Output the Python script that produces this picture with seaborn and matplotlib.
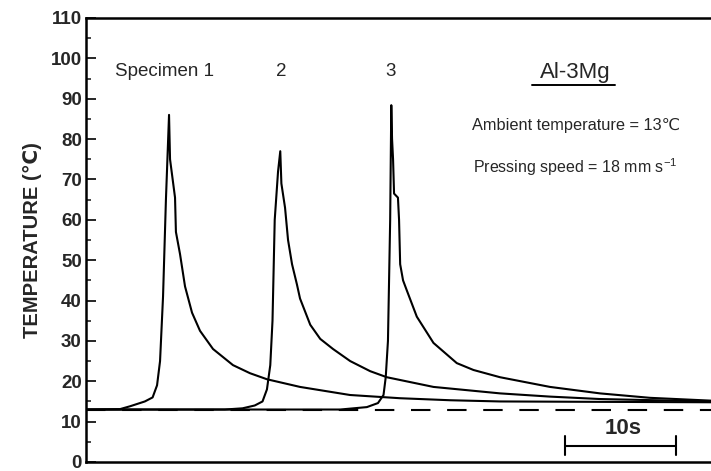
import matplotlib
matplotlib.use("Agg")
import matplotlib.pyplot as plt
import seaborn as sns
import pandas as pd
import numpy as np

# ---- data (time in s, temperature in degC) ----
t1 = [0.0, 3.06, 3.96, 5.3, 6.0, 6.4, 6.67, 6.94, 7.2, 7.48, 7.57, 8.02, 8.1, 8.47, 8.92, 9.55,
      10.27, 11.44, 13.24, 14.77, 16.3, 19.28, 23.78, 28.29, 32.8, 37.3, 46.3, 56.3]
v1 = [13.0, 13.1, 13.8, 15.0, 16.0, 19.0, 25.0, 41.0, 65.0, 86.0, 75.0, 65.5, 57.0, 51.5, 43.5, 37.0,
      32.5, 28.0, 24.0, 22.0, 20.5, 18.6, 16.6, 15.8, 15.3, 15.0, 14.9, 14.8]

t2 = [0.0, 12.5, 14.1, 15.2, 15.9, 16.3, 16.6, 16.8, 17.0, 17.3, 17.5, 17.6, 17.93, 18.2, 18.56,
      19.0, 19.28, 20.2, 21.1, 22.25, 23.8, 25.6, 27.1, 31.3, 37.3, 41.8, 46.3, 56.3]
v2 = [13.0, 13.0, 13.3, 14.0, 15.0, 18.0, 24.0, 35.0, 60.0, 72.0, 77.0, 69.0, 63.0, 55.0, 49.0,
      44.0, 40.5, 34.0, 30.5, 28.0, 25.0, 22.5, 21.0, 18.6, 17.0, 16.2, 15.6, 15.0]

t3 = [0.0, 22.9, 25.3, 26.3, 26.8, 27.0, 27.2, 27.4, 27.5, 27.57, 27.66, 27.75, 28.1, 28.2, 28.3,
      28.56, 28.9, 29.8, 31.3, 33.4, 34.9, 37.3, 41.8, 46.3, 50.8, 56.3]
v3 = [13.0, 13.0, 13.6, 14.6, 16.6, 21.0, 30.0, 60.0, 88.4, 80.0, 75.0, 66.5, 65.5, 60.0, 49.0,
      45.0, 42.5, 36.0, 29.5, 24.5, 22.8, 21.0, 18.6, 17.0, 15.9, 15.2]

specimens = ["Specimen 1", "2", "3"]
ambient = 13.0
y_ticks = list(range(0, 111, 10))

df = pd.concat([
    pd.DataFrame({"time": t1, "temp": v1, "specimen": specimens[0]}),
    pd.DataFrame({"time": t2, "temp": v2, "specimen": specimens[1]}),
    pd.DataFrame({"time": t3, "temp": v3, "specimen": specimens[2]}),
], ignore_index=True)

sns.set_style("white")
plt.rcParams["font.family"] = ["Liberation Sans", "DejaVu Sans"]
plt.rcParams["lines.scale_dashes"] = False
plt.rcParams["mathtext.fontset"] = "custom"
plt.rcParams["mathtext.rm"] = "Liberation Sans"

fig = plt.figure(figsize=(7.11, 4.71), dpi=100)
ax = fig.add_axes([86 / 711, 9 / 471, 1 - 86 / 711, (462 - 18) / 471])

sns.lineplot(data=df, x="time", y="temp", units="specimen", estimator=None, sort=False,
             color="black", linewidth=1.5, ax=ax, legend=False)

ax.axhline(ambient, color="black", linewidth=1.5, dashes=(14, 12))

ax.set_xlim(0, 56.3)
ax.set_ylim(0, 110)
ax.set_yticks(y_ticks)
ax.set_yticks(np.arange(5, 110, 10), minor=True)
ax.set_xticks([])
ax.tick_params(axis="y", which="major", direction="in", length=7, width=1.4, pad=3,
               labelsize=13.5, left=True)
ax.tick_params(axis="y", which="minor", direction="in", length=3.5, width=1.2, left=True)
for lab in ax.get_yticklabels():
    lab.set_fontweight("bold")
ax.set_xlabel("")
ax.set_ylabel("TEMPERATURE (℃)", fontsize=14.5, fontweight="bold", labelpad=6)

for side in ["left", "bottom", "top"]:
    ax.spines[side].set_visible(True)
    ax.spines[side].set_linewidth(1.8)
    ax.spines[side].set_color("black")
ax.spines["right"].set_visible(False)

# labels
ax.text(2.6, 96.8, "Specimen 1", fontsize=13.5, va="center", ha="left")
ax.text(17.6, 96.8, "2", fontsize=13.5, va="center", ha="center")
ax.text(27.4, 96.8, "3", fontsize=13.5, va="center", ha="center")
ax.text(44.05, 96.4, "Al-3Mg", fontsize=16, va="center", ha="center")
ax.plot([40.2, 47.66], [93.3, 93.3], color="black", linewidth=1.4)
ax.text(44.1, 83.4, "Ambient temperature = 13℃", fontsize=11.8, va="center", ha="center")
ax.text(44.1, 73.0, "Pressing speed = 18 mm s$^{-1}$", fontsize=11.5, va="center", ha="center")

# 10 s scale bar
ax.plot([43.15, 53.15], [4.0, 4.0], color="black", linewidth=1.5)
ax.plot([43.15, 43.15], [1.7, 6.4], color="black", linewidth=1.5)
ax.plot([53.15, 53.15], [1.7, 6.4], color="black", linewidth=1.5)
ax.text(48.4, 8.4, "10s", fontsize=16, fontweight="bold", va="center", ha="center")

fig.savefig("out.png", dpi=100)
